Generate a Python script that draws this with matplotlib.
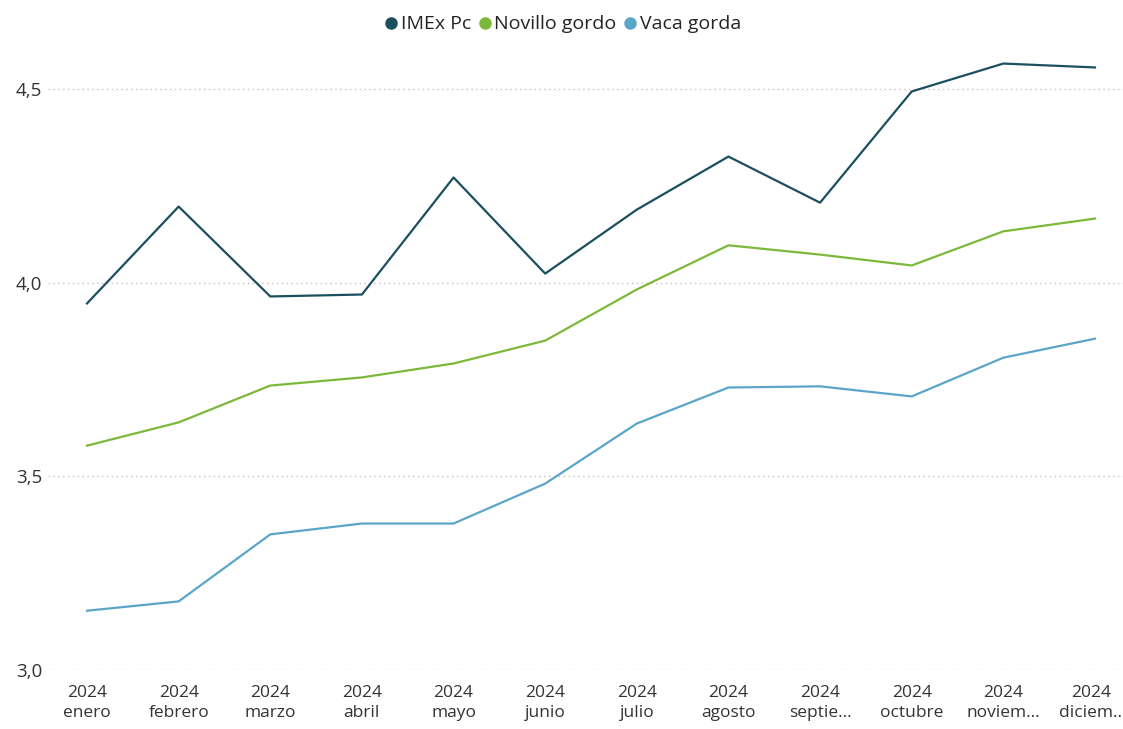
import matplotlib
matplotlib.use("Agg")
import matplotlib.pyplot as plt
import matplotlib.transforms as mtransforms
from matplotlib.ticker import FuncFormatter

# ── data ──
meses = ["enero", "febrero", "marzo", "abril", "mayo", "junio", "julio",
         "agosto", "septie...", "octubre", "noviem...", "diciem.."]
anio = "2024"

imex    = [3.946, 4.196, 3.964, 3.969, 4.271, 4.023, 4.188, 4.325, 4.206, 4.493, 4.565, 4.555]
novillo = [3.579, 3.639, 3.734, 3.755, 3.791, 3.850, 3.982, 4.096, 4.072, 4.044, 4.132, 4.165]
vaca    = [3.153, 3.177, 3.350, 3.378, 3.378, 3.481, 3.636, 3.729, 3.732, 3.706, 3.806, 3.855]

series = [("IMEx Pc", imex, "#1b4f5f"),
          ("Novillo gordo", novillo, "#7cb93a"),
          ("Vaca gorda", vaca, "#5aa5c8")]

plt.rcParams["font.family"] = ["Open Sans", "DejaVu Sans"]

fig = plt.figure(figsize=(11.23, 7.29), dpi=100)
ax = fig.add_axes([48 / 1123, 59 / 729, 1 - 48 / 1123, 620 / 729])

x = list(range(len(meses)))
for name, vals, col in series:
    ax.plot(x, vals, color=col, lw=1.6, label=name)

ax.set_xlim(-0.426, 11.306)
ax.set_ylim(3.0, 4.6)
ax.set_yticks([3.0, 3.5, 4.0, 4.5])
ax.yaxis.set_major_formatter(FuncFormatter(lambda v, p: f"{v:.1f}".replace(".", ",")))
ax.set_xticks(x)
ax.set_xticklabels([f"{anio}\n{m}" for m in meses])
ax.grid(axis="y", color="#c0c0c0", linestyle=(0, (1, 2.5)), lw=1)
ax.set_axisbelow(True)
for s in ax.spines.values():
    s.set_visible(False)
ax.tick_params(length=0, colors="#333333")
ax.tick_params(axis="y", pad=4, labelsize=13.5)
ax.tick_params(axis="x", pad=11, labelsize=12.5)
for t in ax.get_xticklabels():
    t.set_linespacing(1.35)
# last label sits right at the edge; nudge it in a little
last = ax.get_xticklabels()[-1]
last.set_transform(last.get_transform() + mtransforms.ScaledTranslation(-4 / 100, 0, fig.dpi_scale_trans))

handles = [plt.Line2D([], [], marker="o", linestyle="", color=c, markersize=8) for _, _, c in series]
fig.legend(handles, [n for n, _, _ in series], loc="upper center",
           bbox_to_anchor=(0.501, 1.003), ncol=3, frameon=False, fontsize=14,
           handlelength=0.7, handletextpad=0.15, columnspacing=0.35,
           labelcolor="#252423")

fig.savefig("out.png", dpi=100)
